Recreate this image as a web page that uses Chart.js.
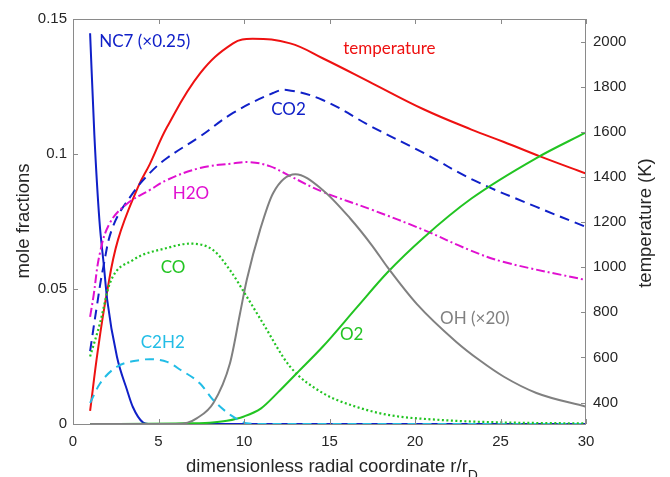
<!DOCTYPE html>
<html>
<head>
<meta charset="utf-8">
<script src="https://cdn.jsdelivr.net/npm/chart.js@4.4.1/dist/chart.umd.min.js"></script>
<style>
  html, body { margin: 0; padding: 0; background: #fff; }
  #wrap { width: 670px; height: 477px; }
</style>
</head>
<body>
<div id="wrap"><canvas id="c" width="670" height="477"></canvas></div>
<script>
// x = dimensionless radial coordinate, mole fractions on left axis, temperature on right
const xTicks = [0, 5, 10, 15, 20, 25, 30];
const yTicks = [0, 0.05, 0.1, 0.15];
const tTicks = [400, 600, 800, 1000, 1200, 1400, 1600, 1800, 2000];

const tempX = [1, 1.45, 1.96, 2.63, 3.8, 4.5, 5.5, 7.43, 9.36, 10.5, 12.7, 14.6, 17.5, 20.5, 23.3, 25.2, 27.35, 30];
const tempY = [363, 630, 877, 1121, 1355, 1458, 1621, 1859, 1992, 2012, 1992, 1926, 1815, 1700, 1610, 1555, 1490, 1415];

const nc7X = [1, 1.25, 1.55, 1.8, 2.0, 2.57, 3.16, 3.5, 4.1, 4.4, 10, 20, 30];
const nc7Y = [0.1447, 0.107, 0.075, 0.059, 0.046, 0.0249, 0.0126, 0.0063, 0.0005, 0, 0, 0, 0];

const co2X = [1, 1.38, 1.77, 2.36, 3.5, 4.5, 5.5, 7.43, 9.36, 11.7, 12.5, 14.6, 17.5, 20.5, 23.4, 27.1, 30];
const co2Y = [0.027, 0.043, 0.058, 0.0735, 0.0855, 0.093, 0.0985, 0.1065, 0.1152, 0.1226, 0.1237, 0.12, 0.11, 0.1004, 0.0904, 0.0804, 0.073];

const h2oX = [1, 1.19, 1.58, 2.16, 3.14, 4.5, 5.5, 7.43, 9.36, 10.3, 11.5, 12.7, 14.6, 17.5, 20.5, 23.2, 25.2, 30];
const h2oY = [0.0397, 0.047, 0.0635, 0.0745, 0.0815, 0.0867, 0.0904, 0.0948, 0.0965, 0.097, 0.0955, 0.0918, 0.086, 0.0793, 0.0719, 0.0644, 0.06, 0.0533];

const coX = [1, 1.58, 2.16, 3.5, 5.5, 6.84, 8.2, 9.18, 10.16, 11.1, 12.7, 14.6, 16.6, 18.5, 21.5, 25, 30];
const coY = [0.025, 0.0374, 0.0522, 0.0607, 0.0652, 0.0668, 0.0644, 0.057, 0.0472, 0.0374, 0.0212, 0.0115, 0.0063, 0.0033, 0.0015, 0.0006, 0.0002];

const c2h2X = [1, 1.58, 2.57, 3.92, 4.5, 5.5, 6.3, 7.43, 8.2, 9.36, 10.16, 11, 30];
const c2h2Y = [0.0078, 0.015, 0.0212, 0.0237, 0.024, 0.023, 0.02, 0.015, 0.0089, 0.0027, 0.0003, 0, 0];

const ohX = [1, 6, 6.7, 7.23, 8.2, 9.18, 9.77, 10.16, 10.94, 11.7, 13.0, 14.6, 16.2, 17.5, 18.4, 20.1, 22.4, 23.8, 25.2, 27.1, 30];
const ohY = [0, 0, 0.0005, 0.0021, 0.0077, 0.0225, 0.041, 0.0533, 0.0719, 0.0855, 0.0925, 0.0867, 0.0762, 0.066, 0.058, 0.0445, 0.0305, 0.0235, 0.0175, 0.0115, 0.0064];

const o2X = [1, 6, 8, 9, 10, 11, 12, 13.1, 14.6, 16.6, 18.4, 20.5, 23.3, 27.1, 30];
const o2Y = [0, 0.0002, 0.0005, 0.0012, 0.0028, 0.0058, 0.0118, 0.0189, 0.0286, 0.0432, 0.0562, 0.069, 0.0835, 0.0985, 0.108];

// curve labels: text, x, y (left axis units), colour
const labels = [
  ["NC7 (×0.25)", 4.2, 0.1415, "#1020c8"],
  ["temperature", 18.5, 0.139, "#ee1111"],
  ["CO2", 12.6, 0.1165, "#1020c8"],
  ["H2O", 6.9, 0.0855, "#e010d0"],
  ["CO", 5.85, 0.058, "#22c422"],
  ["C2H2", 5.25, 0.03, "#22bde6"],
  ["O2", 16.3, 0.0333, "#22c422"],
  ["OH (×20)", 23.5, 0.0392, "#808080"]
];

function pts(xs, ys) {
  return xs.map((x, i) => ({ x: x, y: ys[i] }));
}

function line(data, color, axis, dash, width, smooth) {
  const ds = {
    data: data,
    borderColor: color,
    borderWidth: width || 2,
    borderDash: dash || [],
    yAxisID: axis,
    pointRadius: 0,
    fill: false
  };
  if (smooth) ds.tension = 0.4;
  else ds.cubicInterpolationMode = "monotone";
  return ds;
}

const tickFont = { family: "'Liberation Sans', Arial, sans-serif", size: 15 };

const frame = {
  id: "frame",
  afterDraw(chart) {
    const ctx = chart.ctx;
    const a = chart.chartArea;
    const sx = chart.scales.x, sy = chart.scales.y, st = chart.scales.yT;
    ctx.save();
    ctx.strokeStyle = "#8a8a8a";
    ctx.lineWidth = 1;
    ctx.strokeRect(a.left + 0.5, a.top + 0.5, a.right - a.left - 1, a.bottom - a.top);
    ctx.beginPath();
    xTicks.forEach(v => {
      const p = Math.round(sx.getPixelForValue(v)) + 0.5;
      ctx.moveTo(p, a.bottom); ctx.lineTo(p, a.bottom - 5);
      ctx.moveTo(p, a.top); ctx.lineTo(p, a.top + 5);
    });
    yTicks.forEach(v => {
      const p = Math.round(sy.getPixelForValue(v)) + 0.5;
      ctx.moveTo(a.left, p); ctx.lineTo(a.left + 5, p);
    });
    tTicks.forEach(v => {
      const p = Math.round(st.getPixelForValue(v)) + 0.5;
      ctx.moveTo(a.right, p); ctx.lineTo(a.right - 5, p);
    });
    ctx.stroke();

    // curve labels
    ctx.font = "17px Lato, 'Open Sans', sans-serif";
    ctx.textAlign = "center";
    ctx.textBaseline = "middle";
    labels.forEach(l => {
      ctx.fillStyle = l[3];
      ctx.fillText(l[0], sx.getPixelForValue(l[1]), sy.getPixelForValue(l[2]));
    });

    // axis titles
    ctx.fillStyle = "#262626";
    ctx.font = "18.5px 'Liberation Sans', Arial, sans-serif";
    const main = "dimensionless radial coordinate r/r";
    ctx.textAlign = "left";
    ctx.textBaseline = "alphabetic";
    const w = ctx.measureText(main).width;
    ctx.font = "14px 'Liberation Sans', Arial, sans-serif";
    const wd = ctx.measureText("D").width;
    const x0 = 332 - (w + wd) / 2;
    ctx.font = "18.5px 'Liberation Sans', Arial, sans-serif";
    ctx.fillText(main, x0, 472);
    ctx.font = "14px 'Liberation Sans', Arial, sans-serif";
    ctx.fillText("D", x0 + w, 480);

    ctx.font = "18.5px 'Liberation Sans', Arial, sans-serif";
    ctx.textAlign = "center";
    ctx.textBaseline = "middle";
    ctx.save();
    ctx.translate(24, 221);
    ctx.rotate(-Math.PI / 2);
    ctx.fillText("mole fractions", 0, 0);
    ctx.restore();
    ctx.save();
    ctx.translate(646, 223);
    ctx.rotate(-Math.PI / 2);
    ctx.fillText("temperature (K)", 0, 0);
    ctx.restore();
    ctx.restore();
  }
};

const noGrid = { display: false, drawTicks: false };

new Chart(document.getElementById("c"), {
  type: "line",
  data: {
    datasets: [
      line(pts(coX, coY), "#22c422", "y", [2, 2.5], 2.2),
      line(pts(c2h2X, c2h2Y), "#22bde6", "y", [9, 6]),
      line(pts(ohX, ohY), "#808080", "y"),
      line(pts(o2X, o2Y), "#22c422", "y"),
      line(pts(h2oX, h2oY), "#e010d0", "y", [9, 3, 2, 3], 2, true),
      line(pts(co2X, co2Y), "#1020c8", "y", [10, 6], 2, true),
      line(pts(nc7X, nc7Y), "#1020c8", "y"),
      line(pts(tempX, tempY), "#ee1111", "yT", [], 2, true)
    ]
  },
  options: {
    responsive: false,
    animation: false,
    devicePixelRatio: 1,
    layout: { padding: { top: 19, left: 0, right: 0, bottom: 0 } },
    plugins: { legend: { display: false }, tooltip: { enabled: false } },
    scales: {
      x: {
        type: "linear", min: 0, max: 30,
        grid: noGrid, border: { display: false },
        afterBuildTicks: s => { s.ticks = xTicks.map(v => ({ value: v })); },
        afterFit: s => { s.height = 53; },
        ticks: { color: "#262626", font: tickFont, padding: 9, maxRotation: 0, callback: v => String(v) }
      },
      y: {
        position: "left", min: 0, max: 0.15,
        grid: noGrid, border: { display: false },
        afterBuildTicks: s => { s.ticks = yTicks.map(v => ({ value: v })); },
        afterFit: s => { s.width = 73; },
        ticks: { color: "#262626", font: tickFont, padding: 6, callback: v => String(v) }
      },
      yT: {
        position: "right", min: 305, max: 2100,
        grid: noGrid, border: { display: false },
        afterBuildTicks: s => { s.ticks = tTicks.map(v => ({ value: v })); },
        afterFit: s => { s.width = 84; },
        ticks: { color: "#262626", font: tickFont, padding: 7, callback: v => String(v) }
      }
    }
  },
  plugins: [frame]
});
</script>
</body>
</html>
